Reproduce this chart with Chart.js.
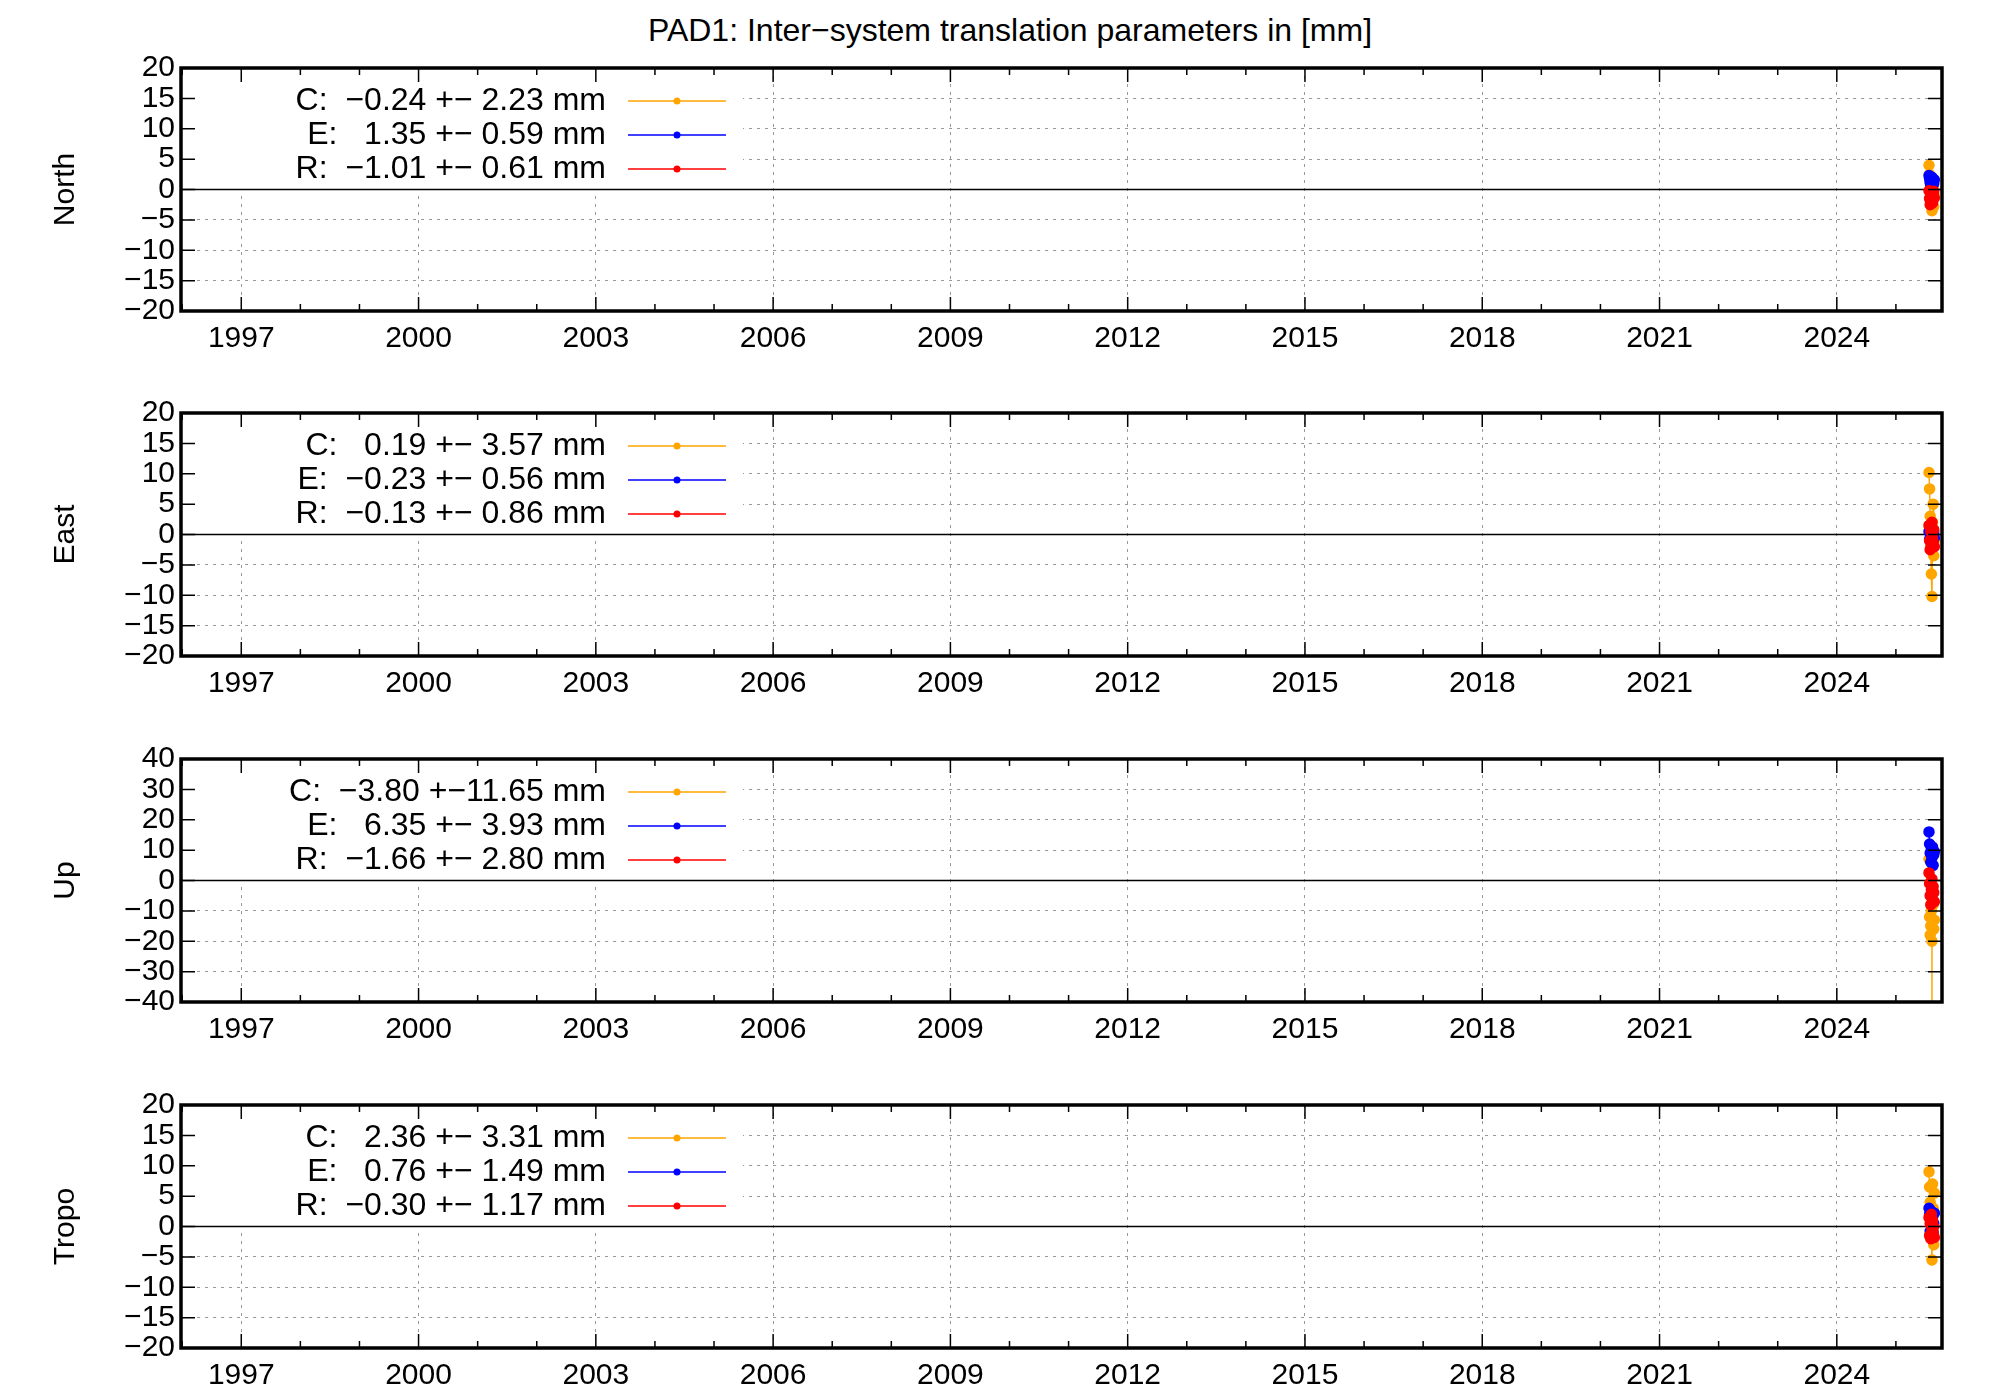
<!DOCTYPE html>
<html><head><meta charset="utf-8">
<script src="https://cdn.jsdelivr.net/npm/chart.js@4"></script>
<style>body{margin:0;background:#fff;width:2000px;height:1400px;position:relative;overflow:hidden}
canvas{position:absolute;left:0}
#title{position:absolute;top:12px;left:0;width:2020px;text-align:center;font:32px "Liberation Sans",Arial,sans-serif}</style>
</head><body>
<div id="title">PAD1: Inter−system translation parameters in [mm]</div>
<script>
const panelNames = ["North","East","Up","Tropo"];
const yMin = [-20,-20,-40,-20], yMax = [20,20,40,20], yStep = [5,5,10,5];
const yearTicks = [1997,2000,2003,2006,2009,2012,2015,2018,2021,2024];
const seriesNames = ["C","E","R"];
const seriesColors = ["#FFA500","#0000FF","#FF0000"];
const legendTexts = [
 ["C:  −0.24 +− 2.23 mm","E:   1.35 +− 0.59 mm","R:  −1.01 +− 0.61 mm"],
 ["C:   0.19 +− 3.57 mm","E:  −0.23 +− 0.56 mm","R:  −0.13 +− 0.86 mm"],
 ["C:  −3.80 +−11.65 mm","E:   6.35 +− 3.93 mm","R:  −1.66 +− 2.80 mm"],
 ["C:   2.36 +− 3.31 mm","E:   0.76 +− 1.49 mm","R:  −0.30 +− 1.17 mm"]];
const epochs = [2025.56,2025.57,2025.58,2025.59,2025.60,2025.61,2025.62,2025.63,2025.64,2025.65];
const northC = [4.0,2.5,1.0,-0.5,-2.0,-3.5,-1.5,0.5,-2.8,-1.0];
const northE = [2.3,1.8,1.2,0.6,1.5,2.0,0.8,1.4,1.0,1.6];
const northR = [-0.2,-1.5,-2.5,-0.8,-1.8,-0.5,-2.2,-1.0,-0.3,-1.4];
const eastC = [10.2,7.5,3.0,-2.0,-6.5,-10.2,2.0,5.0,-3.5,-1.0];
const eastE = [0.5,-0.8,0.2,-0.5,0.8,-1.0,0.0,-0.3,0.4,-0.6];
const eastR = [1.5,-1.0,-2.5,0.5,-1.8,2.0,-0.5,-1.2,0.8,-2.0];
const upC = [7.0,-12.0,-18.0,-15.0,-10.0,-20.0,5.0,-8.0,-16.0,-13.0];
const upE = [16.0,12.0,9.0,6.0,10.5,7.5,11.0,5.0,8.5,9.5];
const upR = [2.5,-1.0,-5.0,-8.0,-3.0,0.5,-6.5,-2.0,-4.0,-7.0];
const tropoC = [9.0,6.5,4.0,2.0,-1.0,-5.5,7.0,3.0,-3.0,5.5];
const tropoE = [3.0,2.0,-0.8,1.0,2.5,0.0,1.5,-1.0,0.5,2.2];
const tropoR = [1.5,-1.5,0.5,-2.0,2.0,-0.5,1.0,-1.0,0.0,-1.8];
const upCErr = [1.5,2.0,2.5,1.5,2.0,20.0,1.5,2.0,2.5,2.0];
const errC = [0.8,0.6,null,0.9];
const errE = [0.4,0.3,1.5,0.4];
const errR = [0.3,0.3,0.6,0.3];
const values = [[northC,northE,northR],[eastC,eastE,eastR],[upC,upE,upR],[tropoC,tropoE,tropoR]];

const plotTops = [68,413,759,1105];
const PLOT_H = 243, PLOT_L = 181, PLOT_R = 1942;
const FONT = '"Liberation Sans", Arial, sans-serif';
const TOPPAD = 24;

const panelPlugin = {
  id:'panelDeco',
  beforeDatasetsDraw(chart, a, opts){
    const ctx = chart.ctx, ca = chart.chartArea, x = chart.scales.x, y = chart.scales.y;
    ctx.save();
    ctx.fillStyle='#fff';
    ctx.fillRect(ca.left+1, ca.top+1, 742-ca.left, 122);
    ctx.strokeStyle='#000'; ctx.lineWidth=1.5;
    ctx.beginPath(); ctx.moveTo(ca.left,y.getPixelForValue(0)); ctx.lineTo(ca.right,y.getPixelForValue(0)); ctx.stroke();
    chart.data.datasets.forEach(ds=>{
      ctx.strokeStyle=ds.borderColor; ctx.lineWidth=1.5;
      ds.data.forEach(p=>{
        const px=x.getPixelForValue(p.x);
        ctx.beginPath();
        ctx.moveTo(px,Math.min(ca.bottom,y.getPixelForValue(p.y-p.e)));
        ctx.lineTo(px,Math.max(ca.top,y.getPixelForValue(p.y+p.e)));
        ctx.stroke();
      });
    });
    ctx.restore();
  },
  afterDraw(chart, a, opts){
    const ctx = chart.ctx, ca = chart.chartArea, x = chart.scales.x, y = chart.scales.y;
    ctx.save();
    ctx.strokeStyle='#000'; ctx.lineWidth=1.5;
    for(let yr=1996; yr<=2025; yr++){
      const px=x.getPixelForValue(yr); const L = yearTicks.includes(yr)?14:7;
      ctx.beginPath(); ctx.moveTo(px,ca.bottom); ctx.lineTo(px,ca.bottom-L);
      ctx.moveTo(px,ca.top); ctx.lineTo(px,ca.top+L); ctx.stroke();
    }
    for(let v=y.min; v<=y.max; v+=opts.step){
      const py=y.getPixelForValue(v);
      ctx.beginPath(); ctx.moveTo(ca.left,py); ctx.lineTo(ca.left+14,py);
      ctx.moveTo(ca.right,py); ctx.lineTo(ca.right-14,py); ctx.stroke();
    }
    ctx.lineWidth=3.5;
    ctx.strokeRect(ca.left,ca.top,ca.right-ca.left,ca.bottom-ca.top);
    ctx.fillStyle='#000';
    // y label
    ctx.font='30px '+FONT;
    ctx.save(); ctx.translate(66,(ca.top+ca.bottom)/2); ctx.rotate(-Math.PI/2);
    ctx.textAlign='center'; ctx.textBaseline='middle'; ctx.fillText(opts.name,0,0); ctx.restore();
    // legend
    ctx.font='32px '+FONT; ctx.textAlign='right'; ctx.textBaseline='middle';
    opts.texts.forEach((t,i)=>{
      const ly = ca.top+33+i*34;
      ctx.fillText(t, 606, ly);
      ctx.strokeStyle=seriesColors[i]; ctx.lineWidth=1.5;
      ctx.beginPath(); ctx.moveTo(628,ly); ctx.lineTo(726,ly); ctx.stroke();
      ctx.fillStyle=seriesColors[i]; ctx.beginPath(); ctx.arc(677,ly,3.5,0,Math.PI*2); ctx.fill();
      ctx.fillStyle='#000';
    });
    ctx.restore();
  }
};

for(let p=0;p<4;p++){
  const cv=document.createElement('canvas');
  const top=plotTops[p]-TOPPAD, h=TOPPAD+PLOT_H+56;
  cv.style.top=top+'px'; cv.width=2000; cv.height=h; cv.style.width='2000px'; cv.style.height=h+'px';
  document.body.appendChild(cv);
  const datasets = seriesNames.map((s,i)=>({
    label:s, borderColor:seriesColors[i], backgroundColor:seriesColors[i],
    data: epochs.map((e,k)=>({x:e,y:values[p][i][k],e:(p===2&&i===0)?upCErr[k]:[errC,errE,errR][i][p]})),
    showLine:true, borderWidth:1.5, pointRadius:5, pointHoverRadius:5, order:3-i
  }));
  new Chart(cv,{type:'scatter',data:{datasets},
    plugins:[panelPlugin],
    options:{responsive:false,animation:false,devicePixelRatio:1,
      layout:{padding:{top:TOPPAD,right:2000-PLOT_R,left:0,bottom:0}},
      plugins:{legend:{display:false},tooltip:{enabled:false},
        panelDeco:{texts:legendTexts[p],step:yStep[p],name:panelNames[p]}},
      scales:{
        x:{type:'linear',min:1995.98,max:2025.78,
          afterBuildTicks(s){s.ticks=yearTicks.map(v=>({value:v}));},
          afterFit(s){s.height=56;s.paddingLeft=0;s.paddingRight=0;},
          ticks:{font:{size:30,family:FONT},color:'#000',padding:10,maxRotation:0,autoSkip:false,callback:v=>String(v)},
          grid:{color:'#999',lineWidth:1,tickLength:0,drawTicks:false},
          border:{display:false,dash:[3,5]}},
        y:{min:yMin[p],max:yMax[p],
          afterBuildTicks(s){const t=[];for(let v=yMin[p];v<=yMax[p];v+=yStep[p])t.push({value:v});s.ticks=t;},
          afterFit(s){s.width=PLOT_L;s.paddingTop=0;s.paddingBottom=0;},
          ticks:{font:{size:30,family:FONT},color:'#000',padding:6,autoSkip:false,
            callback:v=>String(v).replace('-','−')},
          grid:{color:c=>c.tick&&c.tick.value===0?'rgba(0,0,0,0)':'#999',lineWidth:1,drawTicks:false},
          border:{display:false,dash:[3,5]}}
      }}});
}
</script>
</body></html>
